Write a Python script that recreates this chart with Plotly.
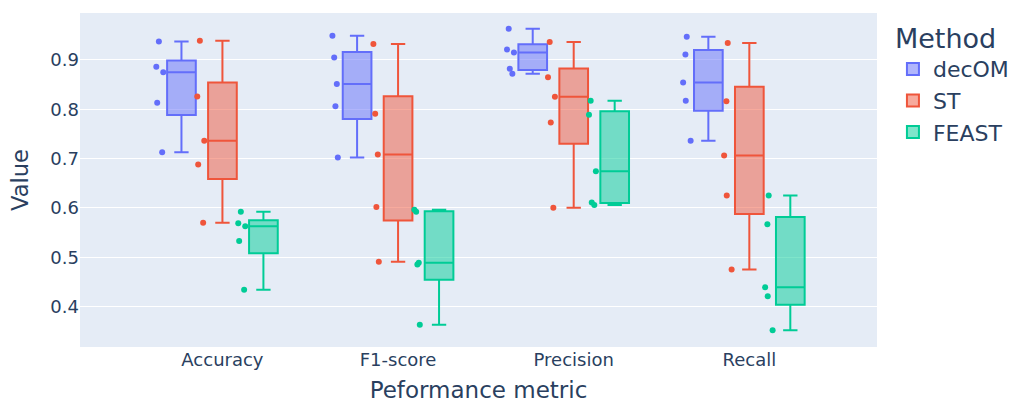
import plotly.graph_objects as go

metrics = ["Accuracy", "F1-score", "Precision", "Recall"]
methods = ["decOM", "ST", "FEAST"]
colors = ["#636EFA", "#EF553B", "#00CC96"]

# values per method and metric (5 samples each)
decom_accuracy = [0.937, 0.886, 0.875, 0.813, 0.713]
decom_f1 = [0.949, 0.905, 0.851, 0.806, 0.702]
decom_precision = [0.963, 0.921, 0.915, 0.882, 0.872]
decom_recall = [0.947, 0.911, 0.854, 0.817, 0.736]

st_accuracy = [0.939, 0.826, 0.736, 0.688, 0.570]
st_f1 = [0.932, 0.791, 0.708, 0.602, 0.491]
st_precision = [0.936, 0.865, 0.825, 0.773, 0.600]
st_recall = [0.934, 0.816, 0.706, 0.625, 0.475]

feast_accuracy = [0.592, 0.569, 0.563, 0.533, 0.434]
feast_f1 = [0.596, 0.592, 0.489, 0.485, 0.363]
feast_precision = [0.817, 0.789, 0.674, 0.611, 0.606]
feast_recall = [0.625, 0.567, 0.439, 0.421, 0.352]

series = {
    "decOM": [decom_accuracy, decom_f1, decom_precision, decom_recall],
    "ST": [st_accuracy, st_f1, st_precision, st_recall],
    "FEAST": [feast_accuracy, feast_f1, feast_precision, feast_recall],
}

fig = go.Figure()
for method, color in zip(methods, colors):
    xs, ys = [], []
    for metric, vals in zip(metrics, series[method]):
        xs += [metric] * len(vals)
        ys += vals
    fig.add_trace(go.Box(
        x=xs, y=ys, name=method, legendgroup=method,
        marker_color=color, boxpoints="all", alignmentgroup="True",
        offsetgroup=method, quartilemethod="linear",
    ))

fig.update_layout(
    template="plotly",
    width=1009, height=403,
    margin=dict(l=80, r=132, t=13, b=56, autoexpand=False),
    font=dict(family="DejaVu Sans", size=18, color="#2a3f5f"),
    boxmode="group",
    legend=dict(title=dict(text="Method", font=dict(size=27)),
                font=dict(size=22), tracegroupgap=0, x=1.02, y=1),
    xaxis=dict(title=dict(text="Peformance metric", font=dict(size=23)),
               categoryorder="array", categoryarray=metrics,
               tickfont=dict(size=18), automargin=False),
    yaxis=dict(title=dict(text="Value", font=dict(size=22.5)),
               range=[0.318, 0.995], tickfont=dict(size=18),
               dtick=0.1, tick0=0, automargin=False),
)

fig.write_html("out.html")
